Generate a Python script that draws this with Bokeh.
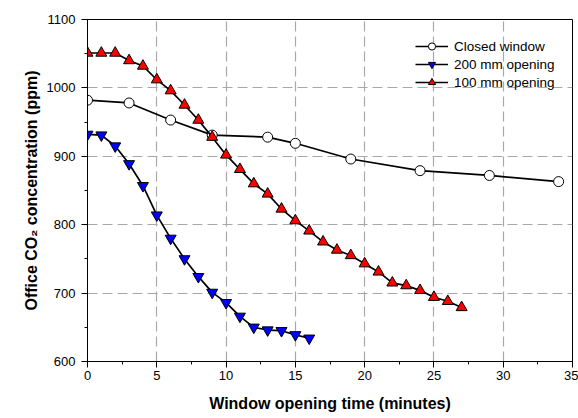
from bokeh.plotting import figure
from bokeh.models import Range1d, SingleIntervalTicker, Legend, LegendItem
from bokeh.embed import file_html
from bokeh.resources import INLINE

# Data
closed_t = [0, 3, 6, 9, 13, 15, 19, 24, 29, 34]
closed_v = [982, 978, 953, 931, 928, 919, 896, 879, 872, 863]

t200 = list(range(0, 17))
v200 = [932, 931, 915, 889, 857, 814, 780, 750, 724, 701, 686, 666, 650, 646, 645, 639, 634]

t100 = list(range(0, 28))
v100 = [1051, 1051, 1051, 1040, 1032, 1012, 996, 975, 953, 928, 902, 881, 860, 845,
        823, 806, 791, 775, 763, 755, 743, 731, 715, 711, 704, 694, 688, 679]

series_names = ["Closed window", "200 mm opening", "100 mm opening"]
x_label = "Window opening time (minutes)"
y_label = "Office CO\u2082 concentration (ppm)"

FONT = "Liberation Sans"

p = figure(width=578, height=418, output_backend="svg", toolbar_location=None,
           x_range=Range1d(0, 35), y_range=Range1d(600, 1100),
           min_border_left=87, min_border_right=6, min_border_top=19, min_border_bottom=57)

p.background_fill_color = "white"
p.border_fill_color = "white"
p.outline_line_color = "black"
p.outline_line_width = 1

xt = SingleIntervalTicker(interval=5, num_minor_ticks=2)
yt = SingleIntervalTicker(interval=100, num_minor_ticks=2)
p.xaxis.ticker = xt
p.yaxis.ticker = yt
p.xgrid.ticker = xt
p.ygrid.ticker = yt

for g in (p.xgrid, p.ygrid):
    g.grid_line_color = "#a8a8a8"
    g.grid_line_dash = "10 5"
    g.grid_line_width = 1.2

for ax in (p.xaxis, p.yaxis):
    ax.axis_line_color = "black"
    ax.axis_line_width = 1
    ax.major_tick_line_color = "black"
    ax.minor_tick_line_color = "black"
    ax.major_tick_in = 0
    ax.major_tick_out = 6
    ax.minor_tick_in = 0
    ax.minor_tick_out = 3
    ax.major_label_text_font = FONT
    ax.major_label_text_font_size = "13px"
    ax.major_label_text_color = "black"
    ax.axis_label_text_font = FONT
    ax.axis_label_text_font_size = "16px"
    ax.axis_label_text_font_style = "bold"
    ax.axis_label_text_color = "black"

p.xaxis.axis_label = x_label
p.yaxis.axis_label = y_label
p.xaxis.major_label_standoff = 3
p.xaxis.axis_label_standoff = 12
p.yaxis.major_label_standoff = 6
p.yaxis.axis_label_standoff = 4

# Series
l1 = p.line(closed_t, closed_v, line_color="black", line_width=1.7)
m1 = p.scatter(closed_t, closed_v, marker="circle", size=10, fill_color="white",
               line_color="black", line_width=1)

l2 = p.line(t200, v200, line_color="black", line_width=1.7)
m2 = p.scatter(t200, v200, marker="inverted_triangle", size=11, fill_color="#0000ff",
               line_color="black", line_width=1)

l3 = p.line(t100, v100, line_color="black", line_width=1.7)
m3 = p.scatter(t100, v100, marker="triangle", size=11, fill_color="#ff0000",
               line_color="black", line_width=1)

legend = Legend(items=[
    LegendItem(label=series_names[0], renderers=[l1, m1]),
    LegendItem(label=series_names[1], renderers=[l2, m2]),
    LegendItem(label=series_names[2], renderers=[l3, m3]),
], location=(328, 270))
legend.border_line_color = None
legend.background_fill_alpha = 0
legend.padding = 0
legend.margin = 0
legend.spacing = 0
legend.label_height = 18
legend.glyph_height = 18
legend.glyph_width = 33
legend.label_standoff = 6
legend.label_text_font = FONT
legend.label_text_font_size = "13.5px"
legend.label_text_color = "black"
p.add_layout(legend)

open("out.html", "w").write(file_html(p, INLINE))
